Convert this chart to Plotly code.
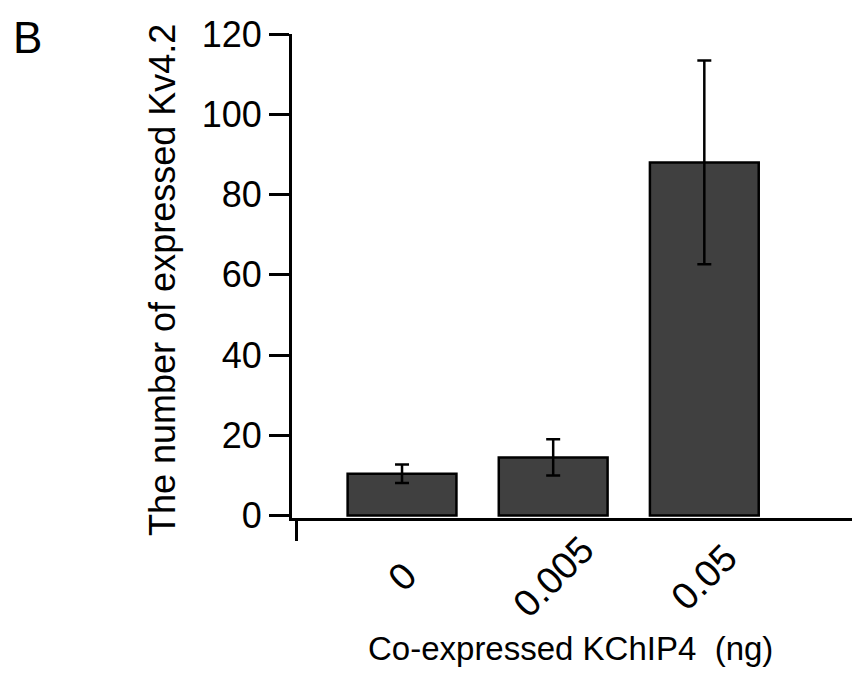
import plotly.graph_objects as go

categories = ["0", "0.005", "0.05"]
means = [10.4, 14.5, 88.0]
errors = [2.3, 4.5, 25.4]
y_ticks = [0, 20, 40, 60, 80, 100, 120]

FONT = "Liberation Sans, Arial, sans-serif"
positions = list(range(len(categories)))

fig = go.Figure()
fig.add_trace(go.Bar(
    x=positions, y=means, width=0.72,
    marker=dict(color="#404040", line=dict(color="black", width=2.5)),
    error_y=dict(type="data", array=errors, visible=True, color="black",
                 thickness=2.5, width=7),
    showlegend=False,
))

for p, c in zip(positions, categories):
    fig.add_annotation(x=p, xref="x", y=-0.122, yref="paper", text=c,
                       textangle=-45, showarrow=False, xanchor="center", yanchor="middle",
                       font=dict(family=FONT, size=38, color="black"))

fig.add_annotation(x=0.49, xref="paper", y=-0.2686, yref="paper",
                   text="Co-expressed KChIP4&nbsp;&nbsp;(ng)", showarrow=False,
                   xanchor="center", yanchor="middle",
                   font=dict(family=FONT, size=33, color="black"))

fig.add_annotation(x=-0.2289, xref="paper", y=0.4917, yref="paper",
                   text="The number of expressed Kv4.2", textangle=-90,
                   showarrow=False, xanchor="center", yanchor="middle",
                   font=dict(family=FONT, size=36, color="black"))

fig.add_annotation(x=-0.4648, xref="paper", y=0.9938, yref="paper", text="B",
                   showarrow=False, xanchor="center", yanchor="middle",
                   font=dict(family=FONT, size=44, color="black"))

fig.update_layout(
    width=852, height=665,
    margin=dict(l=284, r=0, t=26, b=155),
    plot_bgcolor="white", paper_bgcolor="white",
    font=dict(family=FONT, color="black"),
    xaxis=dict(range=[-0.728, 3.03], showline=True, linecolor="black", linewidth=3,
               tickvals=[-0.70], ticktext=[""], ticks="outside", ticklen=20,
               tickwidth=3, tickcolor="black", showgrid=False, zeroline=False),
    yaxis=dict(range=[-0.6, 120], showline=True, linecolor="black", linewidth=3,
               tickvals=y_ticks, ticks="outside", ticklen=20, tickwidth=3,
               tickcolor="black", showgrid=False, zeroline=False,
               tickfont=dict(family=FONT, size=36, color="black")),
)

fig.write_html("out.html")
